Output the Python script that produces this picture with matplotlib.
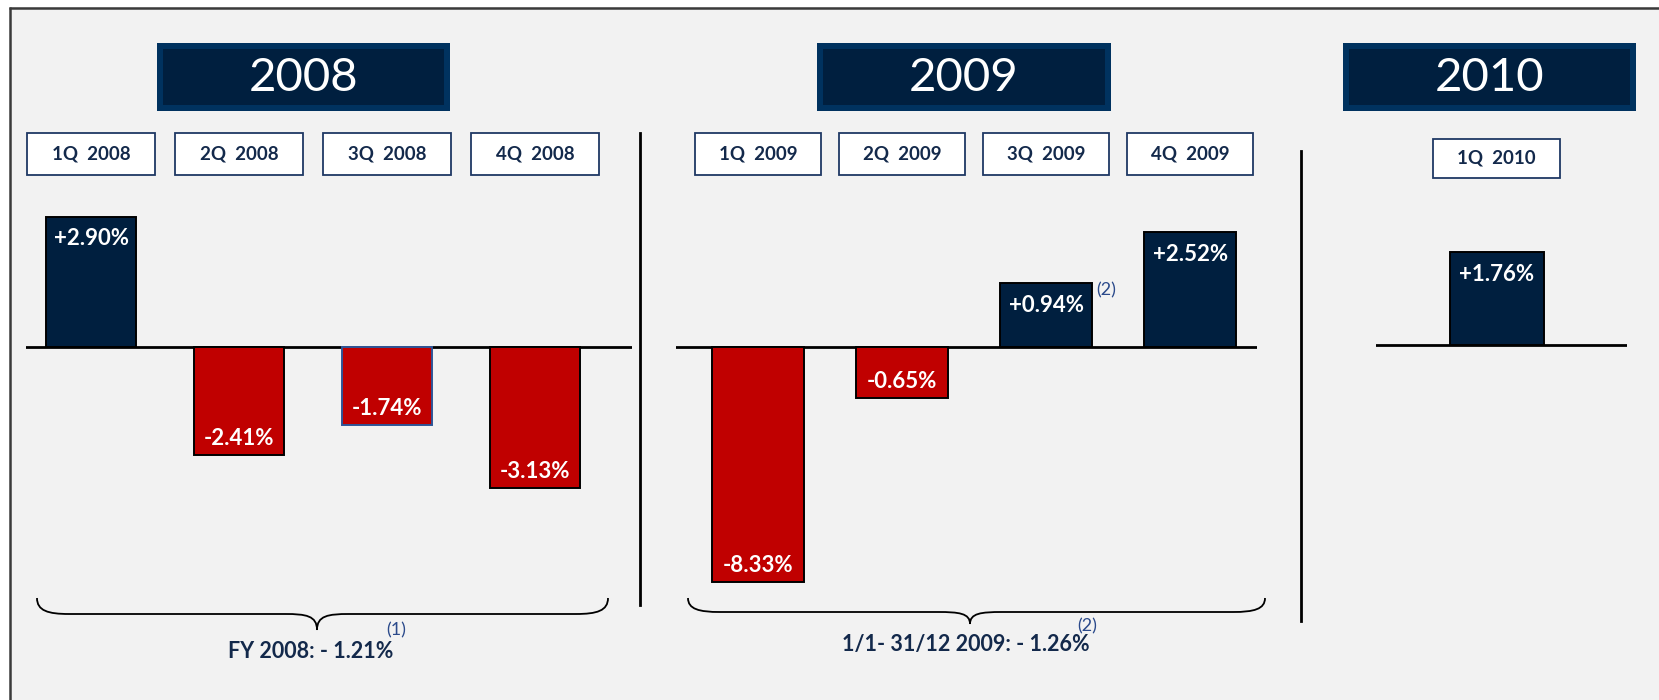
import numpy as np
import matplotlib
matplotlib.use("Agg")
import matplotlib.pyplot as plt
from matplotlib.patches import Rectangle, PathPatch
from matplotlib.path import Path
import matplotlib.transforms as mtransforms

plt.rcParams['font.family'] = ['Lato', 'DejaVu Sans']

# ---------------- data ----------------
years = ["2008", "2009", "2010"]
q_labels_2008 = ["1Q  2008", "2Q  2008", "3Q  2008", "4Q  2008"]
q_values_2008 = [2.90, -2.41, -1.74, -3.13]
q_labels_2009 = ["1Q  2009", "2Q  2009", "3Q  2009", "4Q  2009"]
q_values_2009 = [-8.33, -0.65, 0.94, 2.52]
q_labels_2010 = ["1Q  2010"]
q_values_2010 = [1.76]
fy_2008 = -1.21
period_2009 = -1.26

# ---------------- style ----------------
W, H = 1659, 700
NAVY = "#001F3F"
NAVY_EDGE = "#00325F"
RED = "#C00000"
TXT_NAVY = "#13294B"
SUP_BLUE = "#2B4A8B"
BG = "#F2F2F2"

fig = plt.figure(figsize=(W / 100, H / 100), dpi=100, facecolor="white")

# overlay in pixel coordinates
ov = fig.add_axes([0, 0, 1, 1], zorder=0)
ov.set_xlim(0, W)
ov.set_ylim(H, 0)
ov.axis("off")

ov.add_patch(Rectangle((10, 7), W - 10, H - 7, facecolor=BG, edgecolor="none"))
ov.plot([9, W], [7.5, 7.5], color="#3A3A3A", lw=1.8, solid_capstyle="butt")
ov.plot([10, 10], [7, H], color="#3A3A3A", lw=1.8, solid_capstyle="butt")

# year header boxes
year_boxes = [(157, 450), (817, 1111), (1343, 1636)]
for yr, (x0, x1) in zip(years, year_boxes):
    ov.add_patch(Rectangle((x0, 43), x1 - x0, 68, facecolor=NAVY_EDGE, edgecolor="none"))
    ov.add_patch(Rectangle((x0 + 6, 49), x1 - x0 - 12, 56, facecolor=NAVY, edgecolor="none"))
    ov.text((x0 + x1) / 2, 78, yr, color="white", fontsize=34, ha="center", va="center")

# dividers
ov.plot([640, 640], [133, 605], color="black", lw=2)
ov.plot([1301, 1301], [151, 621], color="black", lw=2)


def brace(x0, x1, xt, ye, yh, yt, r=32):
    verts = [(x0, ye),
             (x0, ye + 0.8 * (yh - ye)), (x0 + 0.35 * r, yh), (x0 + r, yh),
             (xt - r, yh),
             (xt - 0.35 * r, yh), (xt, yh + 0.1 * (yt - yh)), (xt, yt),
             (xt, yh + 0.1 * (yt - yh)), (xt + 0.35 * r, yh), (xt + r, yh),
             (x1 - r, yh),
             (x1 - 0.35 * r, yh), (x1, ye + 0.8 * (yh - ye)), (x1, ye)]
    codes = [Path.MOVETO,
             Path.CURVE4, Path.CURVE4, Path.CURVE4,
             Path.LINETO,
             Path.CURVE4, Path.CURVE4, Path.CURVE4,
             Path.CURVE4, Path.CURVE4, Path.CURVE4,
             Path.LINETO,
             Path.CURVE4, Path.CURVE4, Path.CURVE4]
    ov.add_patch(PathPatch(Path(verts, codes), facecolor="none", edgecolor="black", lw=1.3))


brace(37, 608, 317, 598, 614, 630)
brace(688, 1265, 970, 598, 612, 624)

ov.text(311, 651, f"FY 2008: - {abs(fy_2008):.2f}%", color=TXT_NAVY, fontsize=15.5,
        fontweight="bold", ha="center", va="center")
ov.text(396, 630, "(1)", color=SUP_BLUE, fontsize=13, ha="center", va="center")
ov.text(966, 644, f"1/1- 31/12 2009: - {abs(period_2009):.2f}%", color=TXT_NAVY, fontsize=15.5,
        fontweight="bold", ha="center", va="center")
ov.text(1087, 626, "(2)", color=SUP_BLUE, fontsize=13, ha="center", va="center")


# ---------------- bar panels ----------------
def px_axes(x0, x1, y0, y1):
    ax = fig.add_axes([x0 / W, 1 - y1 / H, (x1 - x0) / W, (y1 - y0) / H], zorder=2)
    ax.patch.set_alpha(0)
    ax.axis("off")
    return ax


def fwd(y):
    y = np.asarray(y, dtype=float)
    return np.sign(y) * np.abs(y) ** 0.6


def inv(y):
    y = np.asarray(y, dtype=float)
    return np.sign(y) * np.abs(y) ** (1 / 0.6)


def panel(x0, x1, base_y, x_left, pitch, labels, values, width, box_w, box_y0, box_y1,
          px_per_unit, power=False, edgecolors=None):
    top_px, bot_px = 150, 660
    ax = px_axes(x0, x1, top_px, bot_px)
    n = len(values)
    xmin = -x_left
    xmax = xmin + (x1 - x0) / pitch
    ax.set_xlim(xmin, xmax)
    up = (base_y - top_px) / px_per_unit
    dn = (bot_px - base_y) / px_per_unit
    if power:
        ax.set_yscale("function", functions=(fwd, inv))
        ax.set_ylim(float(inv(-dn)), float(inv(up)))
    else:
        ax.set_ylim(-dn, up)
    xs = np.arange(n)
    colors = [NAVY if v > 0 else RED for v in values]
    if edgecolors is None:
        edgecolors = ["black"] * n
    ax.axhline(0, color="black", lw=2, zorder=1)
    ax.bar(xs, values, width=width, color=colors, edgecolor=edgecolors, linewidth=1.4, zorder=2)
    for i, v in enumerate(values):
        ax.annotate(f"{v:+.2f}%", xy=(i, v), xytext=(0, -16 if v > 0 else 12),
                    textcoords="offset points", ha="center", va="center",
                    color="white", fontsize=16, fontweight="bold", zorder=3)
    trans = mtransforms.blended_transform_factory(ax.transData, ov.transData)
    for i, lab in enumerate(labels):
        ax.add_patch(Rectangle((i - box_w / 2, box_y0), box_w, box_y1 - box_y0,
                               transform=trans, facecolor="white", edgecolor="#1F3864",
                               lw=1.3, clip_on=False, zorder=3))
        ax.text(i, (box_y0 + box_y1) / 2, lab, transform=trans, ha="center", va="center",
                color=TXT_NAVY, fontsize=13.5, fontweight="bold", zorder=4)
    return ax


panel(26, 632, 347, 0.44, 148, q_labels_2008, q_values_2008, 0.61, 0.865, 133, 175, 45,
      edgecolors=["black", "black", "#2F5597", "black"])
ax09 = panel(676, 1257, 347, 0.57, 144, q_labels_2009, q_values_2009, 0.64, 0.88, 133, 175, 66,
             power=True)
panel(1376, 1627, 345, 0.82, 147, q_labels_2010, q_values_2010, 0.64, 0.86, 139, 178, 66,
      power=True)

# footnote marker next to 3Q 2009 bar
ax09.annotate("(2)", xy=(2 + 0.32, q_values_2009[2]), xytext=(10, -5), textcoords="offset points",
              ha="center", va="center", color=SUP_BLUE, fontsize=13)

fig.savefig("out.png", dpi=100, facecolor="white")
